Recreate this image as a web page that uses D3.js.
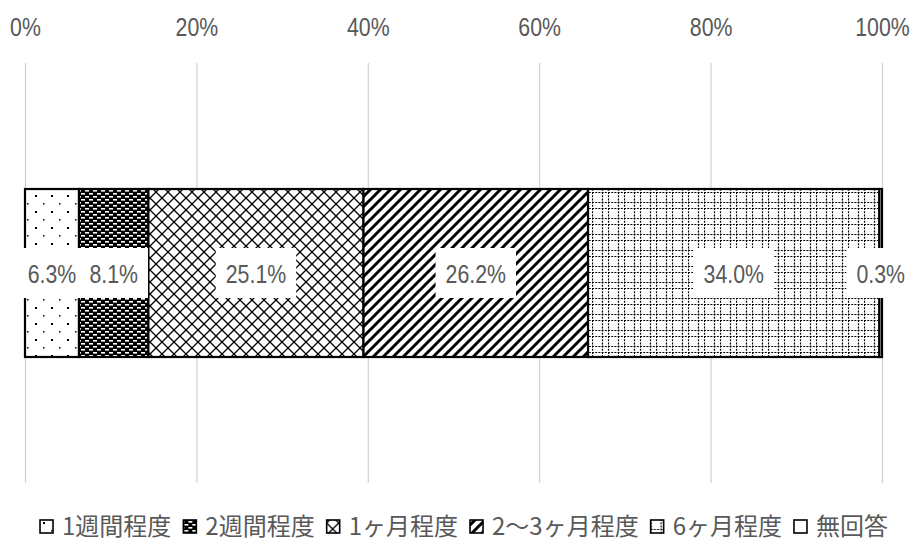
<!DOCTYPE html>
<html lang="ja">
<head>
<meta charset="UTF-8">
<title>期間</title>
<script src="https://d3js.org/d3.v7.min.js"></script>
<style>
  body { margin: 0; background: #fff; }
  .num { font-family: 'Liberation Sans', Arial, sans-serif; }
  .jp { font-family: 'Noto Sans CJK JP', sans-serif; }
</style>
</head>
<body>
<svg width="915" height="544"></svg>
<script>
// data
var categories = ["1週間程度", "2週間程度", "1ヶ月程度", "2～3ヶ月程度", "6ヶ月程度", "無回答"];
var values = [6.3, 8.1, 25.1, 26.2, 34.0, 0.3];
var tickValues = [0, 20, 40, 60, 80, 100];
var rowName = ["全体"];

var svg = d3.select("svg"),
    plotLeft = 25, plotRight = 882,
    plotTop = 63, plotBottom = 483,
    squeeze = 0.82;   // narrow look of the digits

var x = d3.scaleLinear().domain([0, 100]).range([plotLeft, plotRight]);
var y = d3.scaleBand().domain(rowName).range([plotTop, plotBottom]).padding(0.4286);

// patterns
var defs = svg.append("defs");
function pat(id, w, h, draw) {
  var p = defs.append("pattern").attr("id", id)
    .attr("patternUnits", "userSpaceOnUse")
    .attr("width", w).attr("height", h);
  draw(p);
}
pat("p0", 16, 16, function(p) {
  p.append("rect").attr("width", 16).attr("height", 16).attr("fill", "#fff");
  p.append("rect").attr("x", 3).attr("y", 3).attr("width", 2).attr("height", 2).attr("fill", "#000");
  p.append("rect").attr("x", 11).attr("y", 11).attr("width", 1.5).attr("height", 1.5).attr("fill", "#000");
});
pat("p1", 8, 6, function(p) {
  p.append("rect").attr("width", 8).attr("height", 6).attr("fill", "#000");
  [[1, 1, 4], [5, 4, 3], [0, 4, 1]].forEach(function(r) {
    p.append("rect").attr("x", r[0]).attr("y", r[1]).attr("width", r[2]).attr("height", 1.6).attr("fill", "#fff");
  });
});
pat("p2", 12, 12, function(p) {
  p.append("rect").attr("width", 12).attr("height", 12).attr("fill", "#fff");
  p.append("path").attr("d", "M0,0L12,12M12,0L0,12").attr("stroke", "#000").attr("stroke-width", 1.3);
});
pat("p3", 10, 10, function(p) {
  p.append("rect").attr("width", 10).attr("height", 10).attr("fill", "#fff");
  p.append("path").attr("d", "M-2,2L2,-2M0,10L10,0M8,12L12,8").attr("stroke", "#000").attr("stroke-width", 3);
});
pat("p4", 16, 16, function(p) {
  p.append("rect").attr("width", 16).attr("height", 16).attr("fill", "#fff");
  p.append("path").attr("d", "M0,0.5H16M0,10.5H16M0.5,0V16M10.5,0V16")
    .attr("stroke", "#000").attr("stroke-width", 1.2).attr("stroke-dasharray", "2,1.2");
});
pat("p5", 4, 4, function(p) {
  p.append("rect").attr("width", 4).attr("height", 4).attr("fill", "#fff");
});

// gridlines
svg.append("g")
  .attr("transform", "translate(0," + plotBottom + ")")
  .call(d3.axisBottom(x).tickValues(tickValues).tickSize(-(plotBottom - plotTop)).tickFormat(""))
  .call(function(g) {
    g.select(".domain").remove();
    g.selectAll("line").attr("stroke", "#d0d0d0").attr("stroke-width", 1.2);
  });

// tick labels
svg.append("g")
  .attr("transform", "translate(0,36)")
  .call(d3.axisTop(x).tickValues(tickValues).tickSize(0).tickFormat(function(d) { return d + "%"; }))
  .call(function(g) {
    g.select(".domain").remove();
    g.selectAll("text").attr("class", "num").attr("y", 0).attr("dy", 0)
      .attr("transform", "scale(" + squeeze + ",1)")
      .attr("font-size", 26).attr("fill", "#595959");
  });

// stacked segments
var starts = [];
values.reduce(function(acc, v) { starts.push(acc); return acc + v; }, 0);

var segs = svg.append("g");
segs.selectAll("rect")
  .data(values)
  .enter().append("rect")
  .attr("x", function(d, i) { return x(starts[i]); })
  .attr("y", y("全体"))
  .attr("width", function(d) { return x(d) - x(0); })
  .attr("height", y.bandwidth())
  .attr("fill", function(d, i) { return "url(#p" + i + ")"; })
  .attr("stroke", "#000")
  .attr("stroke-width", 2.2);

// data labels
var cy = y("全体") + y.bandwidth() / 2;
var lab = svg.append("g");
var boxes = lab.append("g"), texts = lab.append("g");
values.forEach(function(v, i) {
  var cx = x(starts[i] + v / 2);
  var t = texts.append("text").attr("class", "num")
    .attr("transform", "translate(" + cx + "," + (cy + 10) + ") scale(" + squeeze + ",1)")
    .attr("text-anchor", "middle")
    .attr("font-size", 26).attr("fill", "#595959")
    .text(v.toFixed(1) + "%");
  var w = t.node().getComputedTextLength() * squeeze;
  boxes.append("rect")
    .attr("x", cx - w / 2 - 10).attr("y", cy - 25)
    .attr("width", w + 20).attr("height", 50)
    .attr("fill", "#fff");
});

// legend
var leg = svg.append("g");
var xpos = 0;
categories.forEach(function(c, i) {
  var g = leg.append("g");
  g.append("rect").attr("x", 0).attr("y", -15).attr("width", 13).attr("height", 13)
    .attr("fill", "url(#p" + i + ")").attr("stroke", "#000").attr("stroke-width", 1.6);
  var t = g.append("text").attr("class", "jp").attr("x", 22).attr("y", 0)
    .attr("font-size", 24).attr("fill", "#595959").text(c);
  var w = 22 + t.node().getComputedTextLength();
  g.attr("transform", "translate(" + xpos + ",0)");
  xpos += w + 12;
});
var total = xpos - 12;
leg.attr("transform", "translate(" + (464 - total / 2) + ",535)");
</script>
</body>
</html>
